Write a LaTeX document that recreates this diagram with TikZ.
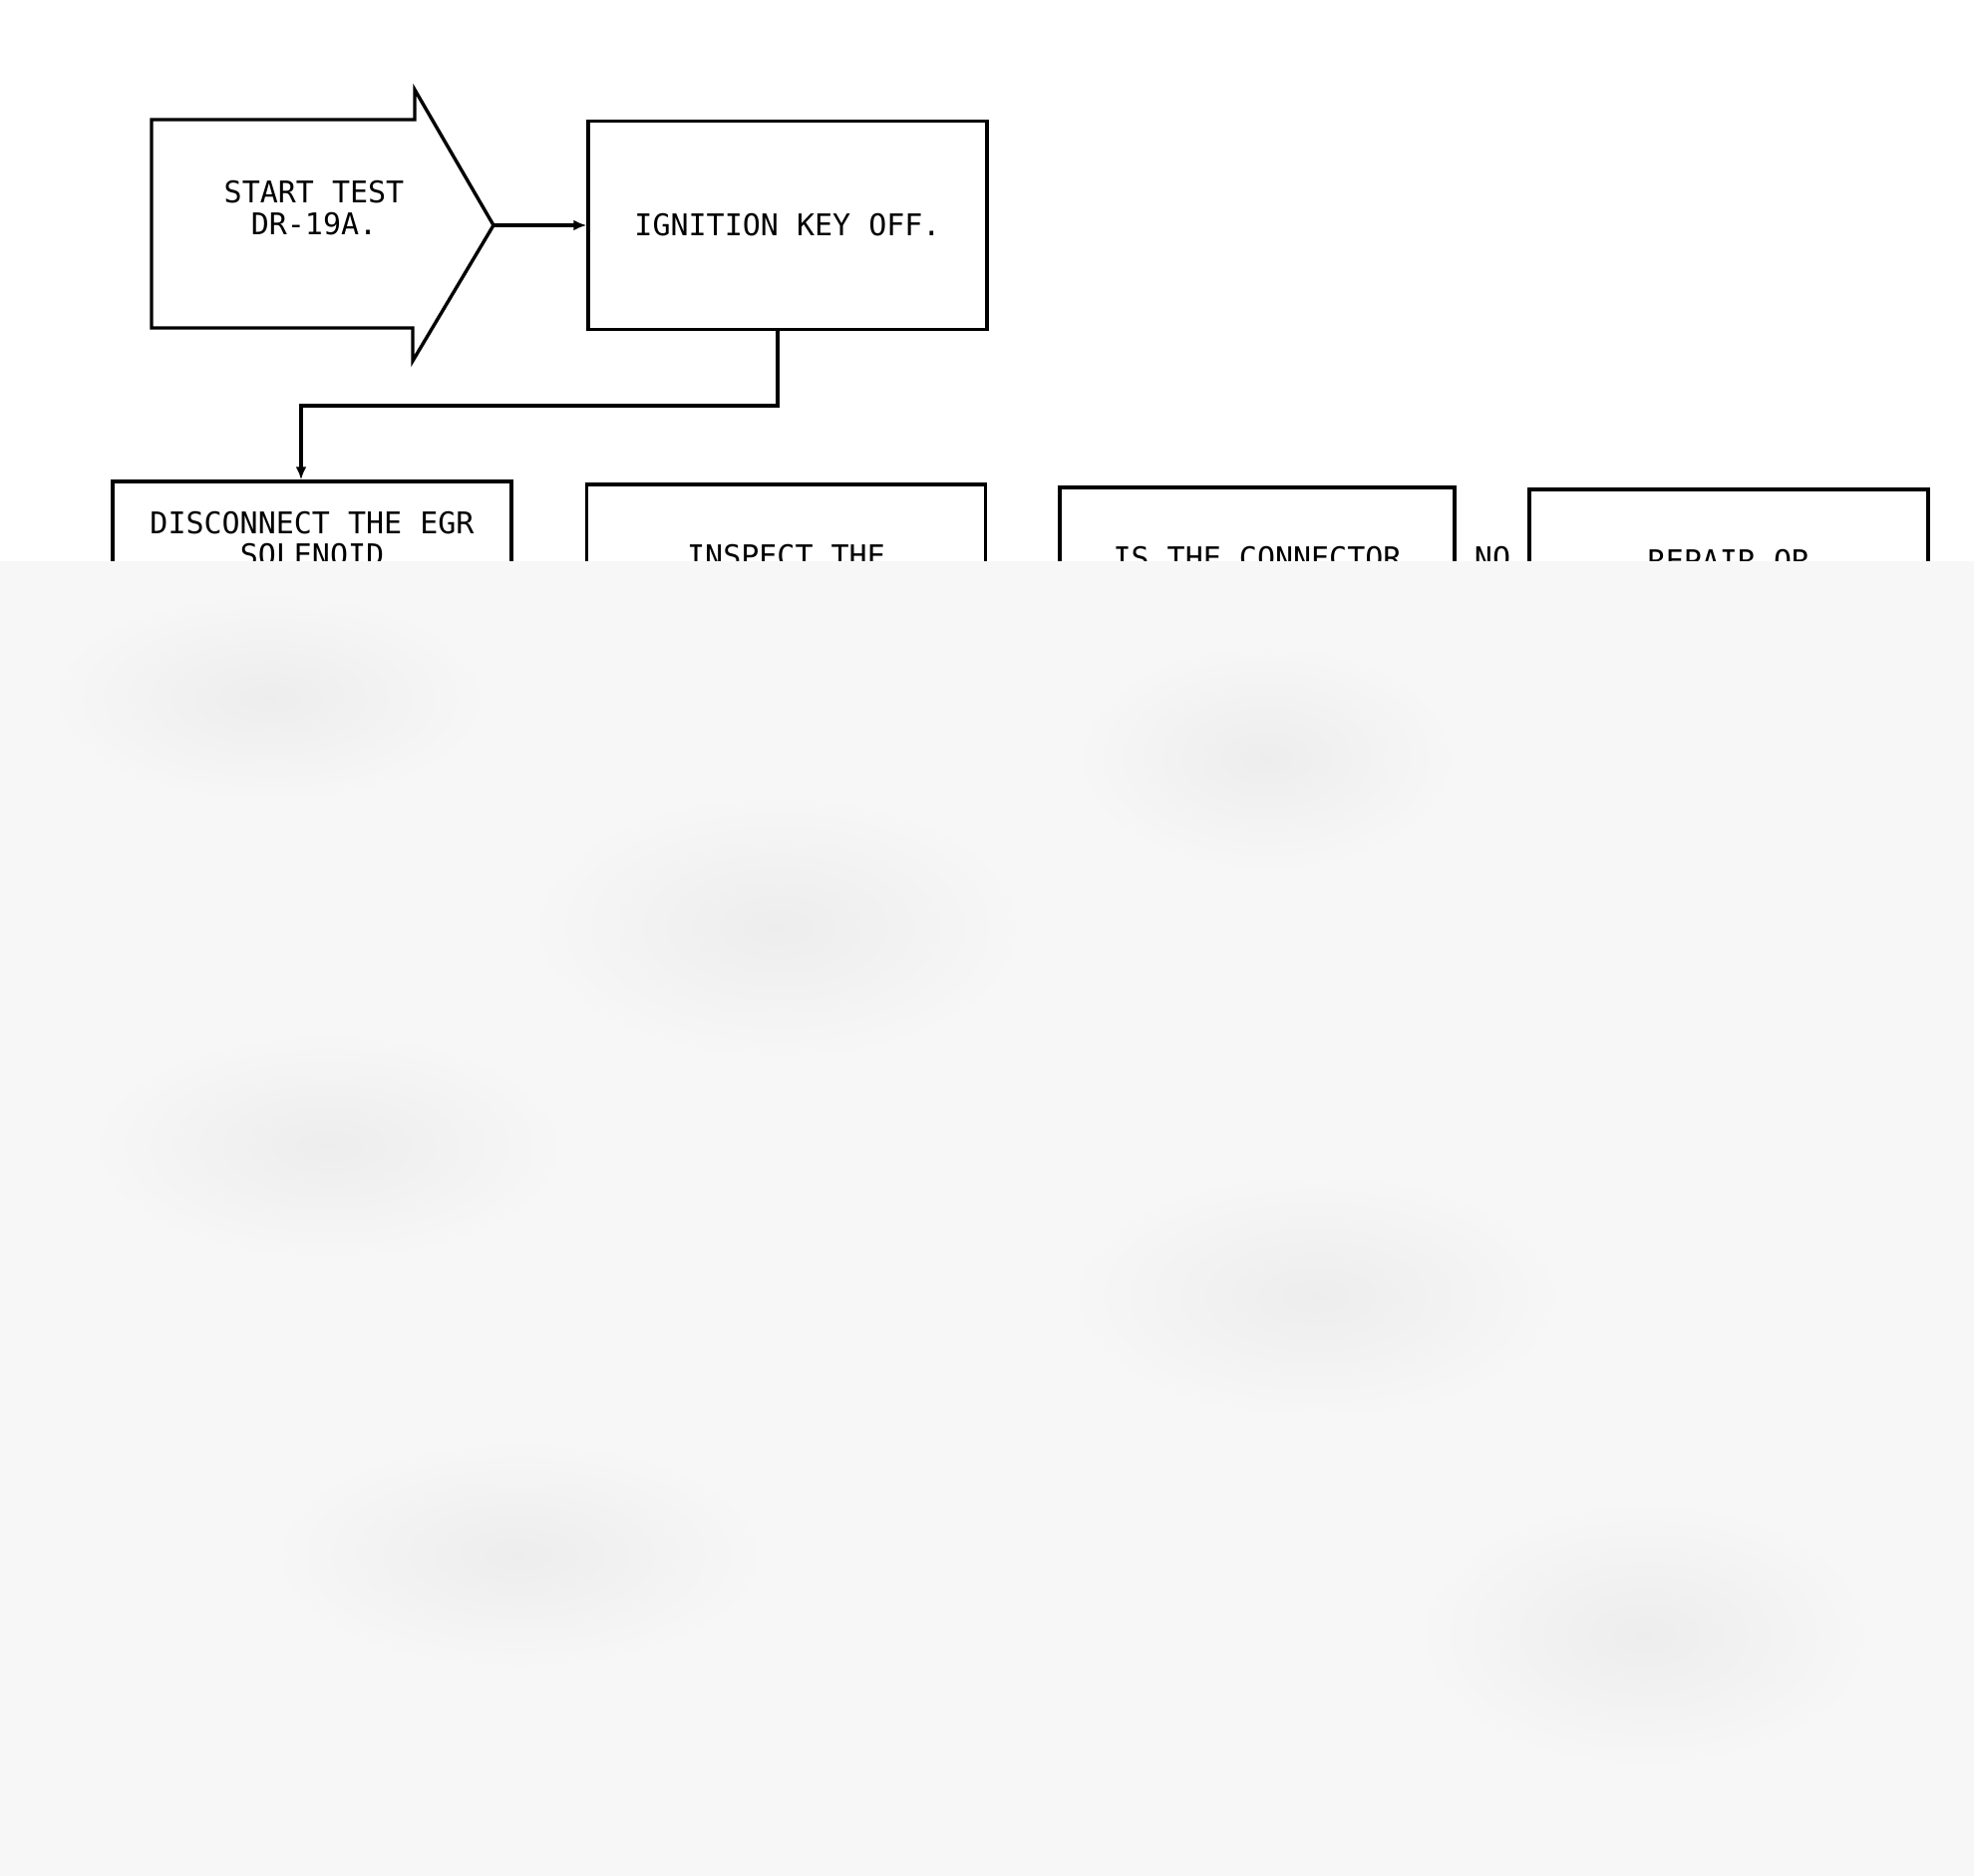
\documentclass[tikz,border=0pt]{standalone}
\usepackage{fontspec}
\newfontfamily\plotfont{DejaVu Sans Mono}
\usetikzlibrary{arrows.meta}
\begin{document}
\begin{tikzpicture}[x=0.5pt,y=-0.5pt,
    line width=1.7pt,
    txt/.style={font=\plotfont\fontsize{15pt}{16pt}\selectfont,align=center,inner sep=0pt},
    box/.style={txt,draw,minimum width=200pt},
    link/.style={-{Latex[length=6.5pt,width=5.5pt]}}]
      \useasboundingbox (0,0) rectangle (1980,1882);
      \draw[line join=miter]
        (152,120) -- (416,120) -- (416,90) -- (495,226) -- (414,362) -- (414,329) -- (152,329) -- cycle;
      \coordinate (tip) at (495,226);
      \draw
        (315,208.5) node[txt] (start){START TEST\\DR-19A.}
        (790,226) node[box,minimum height=104.5pt] (ignition){IGNITION KEY OFF.}
        (313,541) node[box,minimum height=58pt] (disconnect){DISCONNECT THE EGR\\SOLENOID}
        (788.5,558) node[box,minimum height=72pt] (inspect){INSPECT THE}
        (1261,560) node[box,minimum height=71pt,minimum width=198pt] (connector){IS THE CONNECTOR}
        (1734,563) node[box,minimum height=72pt] (repair){REPAIR OR}
        (1497,560) node[txt] (no){NO};
      \begin{scope}[link]
        \draw (tip) -- (tip -| ignition.west);
        \draw ([xshift=-5pt]ignition.south) -- ++(0,75) -| ([xshift=-5.5pt]disconnect.north);
      \end{scope}
      \fill[gray!6] (0,563) rectangle (1980,1882);
      \begin{scope}[shading=radial,inner color=gray!14,outer color=gray!6]
        \shade (270,700) ellipse (230 and 110);
        \shade (780,930) ellipse (260 and 140);
        \shade (1270,760) ellipse (200 and 120);
        \shade (330,1150) ellipse (250 and 120);
        \shade (1320,1300) ellipse (260 and 130);
        \shade (1650,1640) ellipse (240 and 140);
        \shade (520,1560) ellipse (260 and 120);
      \end{scope}
    \end{tikzpicture}
\end{document}
